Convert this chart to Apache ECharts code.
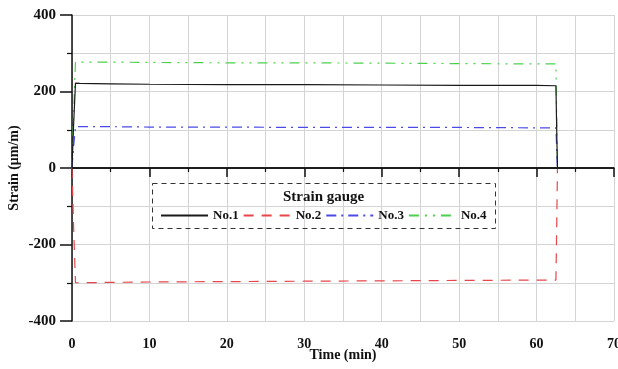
<!DOCTYPE html>
<html><head><meta charset="utf-8">
<script src="https://cdn.jsdelivr.net/npm/echarts@6/dist/echarts.min.js"></script>
<style>html,body{margin:0;padding:0;background:#fff}#c{width:618px;height:369px}</style>
</head><body><div id="c"></div>
<script>
const time = [0, 0.2, 0.45, 1, 5, 10, 20, 30, 40, 50, 60, 62.5, 62.6, 62.7];
const no1 = [0, 110, 222, 221, 220, 219, 218, 218, 217, 216, 216, 215, 100, 0];
const no2 = [0, -150, -300, -300, -299, -298, -297, -296, -295, -294, -293, -293, -150, 0];
const no3 = [0, 55, 108, 108, 108, 107, 107, 106, 106, 106, 105, 105, 50, 0];
const no4 = [0, 140, 277, 277, 277, 276, 275, 275, 274, 273, 272, 272, 130, 0];
const seriesNames = ['No.1', 'No.2', 'No.3', 'No.4'];
const xTicks = [0, 10, 20, 30, 40, 50, 60, 70];
const yTicks = [-400, -200, 0, 200, 400];

const font = '"Liberation Serif", "DejaVu Serif", serif';
const colors = ['#1a1a1a', '#e8464a', '#4a4ae8', '#4fcf4f'];
const dashes = ['solid', [10, 8], [10, 5, 2, 5], [10, 6, 2, 6, 2, 6]];
const vals = [no1, no2, no3, no4];

const chart = echarts.init(document.getElementById('c'), null, {renderer: 'canvas'});
chart.setOption({
  animation: false,
  backgroundColor: '#fff',
  grid: {left: 72, right: 4, top: 15, bottom: 48, containLabel: false, outerBoundsMode: 'none'},
  xAxis: {
    type: 'value', min: xTicks[0], max: xTicks[xTicks.length - 1], interval: 10,
    name: 'Time (min)', nameLocation: 'middle', nameGap: 27, nameMoveOverlap: false,
    nameTextStyle: {fontFamily: font, fontWeight: 'bold', fontSize: 14, color: '#111'},
    axisLine: {lineStyle: {color: '#111', width: 1.5}},
    axisTick: {inside: false, length: 9, lineStyle: {color: '#111', width: 1.5}},
    minorTick: {show: true, splitNumber: 2, length: 4, lineStyle: {color: '#111', width: 1.2}},
    axisLabel: {fontFamily: font, fontWeight: 'bold', fontSize: 14, color: '#111', margin: 16},
    splitLine: {show: true, lineStyle: {color: '#d4d4d4', width: 1}},
    minorSplitLine: {show: true, lineStyle: {color: '#d4d4d4', width: 1}}
  },
  yAxis: {
    type: 'value', min: yTicks[0], max: yTicks[yTicks.length - 1], interval: 200,
    name: 'Strain (μm/m)', nameLocation: 'middle', nameGap: 51, nameRotate: 90, nameMoveOverlap: false,
    nameTextStyle: {fontFamily: font, fontWeight: 'bold', fontSize: 14, color: '#111'},
    axisLine: {show: true, onZero: false, lineStyle: {color: '#111', width: 1.5}},
    axisTick: {show: true, length: 12, lineStyle: {color: '#111', width: 1.5}},
    minorTick: {show: true, splitNumber: 2, length: 5, lineStyle: {color: '#111', width: 1.2}},
    axisLabel: {fontFamily: font, fontWeight: 'bold', fontSize: 15, color: '#111', margin: 16},
    splitLine: {show: true, lineStyle: {color: '#d4d4d4', width: 1}},
    minorSplitLine: {show: true, lineStyle: {color: '#d4d4d4', width: 1}}
  },
  legend: {
    left: 155, top: 204, itemWidth: 47, itemHeight: 10, itemGap: 4,
    data: seriesNames,
    itemStyle: {opacity: 0},
    textStyle: {fontFamily: font, fontWeight: 'bold', fontSize: 13, color: '#111'}
  },
  graphic: [
    {type: 'rect', left: 152, top: 183, shape: {width: 343, height: 45},
     style: {fill: 'transparent', stroke: '#333', lineWidth: 1, lineDash: [5, 4]}, z: 10},
    {type: 'text', left: 283, top: 190,
     style: {text: 'Strain gauge', font: 'bold 15px ' + font, fill: '#111'}, z: 10}
  ],
  series: seriesNames.map((n, i) => ({
    name: n, type: 'line', symbol: 'none',
    data: time.map((t, k) => [t, vals[i][k]]),
    lineStyle: {color: colors[i], width: 1.2, type: dashes[i]},
    itemStyle: {color: colors[i]},
    z: 5 - i,
    markLine: i === 0 ? {
      silent: true, symbol: 'none', label: {show: false},
      lineStyle: {color: '#111', width: 1.5, type: 'solid'},
      data: [{yAxis: 0}]
    } : undefined
  }))
});
</script></body></html>
